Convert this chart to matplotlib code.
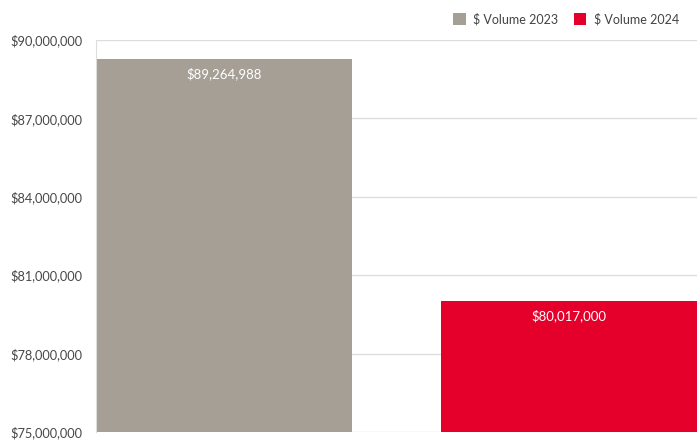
import matplotlib
matplotlib.use("Agg")
import matplotlib.pyplot as plt
from matplotlib.patches import Patch
from matplotlib.ticker import FuncFormatter

series = ["$ Volume 2023", "$ Volume 2024"]
values = [89264988, 80017000]
colors = ["#A69F96", "#E4002B"]
y_ticks = [75000000, 78000000, 81000000, 84000000, 87000000, 90000000]

plt.rcParams["font.family"] = ["Lato", "DejaVu Sans"]

W, H = 697, 441
fig = plt.figure(figsize=(W / 100, H / 100), dpi=100)
ax = fig.add_axes([96 / W, 9 / H, (W - 96) / W, (432 - 40) / H])

width = 0.74
xs = list(range(len(values)))
bars = ax.bar(xs, values, width=width, color=colors, zorder=2)
for x, v in zip(xs, values):
    ax.annotate(f"${v:,.0f}", (x, v), xytext=(0, -6), textcoords="offset points",
                ha="center", va="top", color="white", fontsize=9.5, zorder=3)

ax.set_xlim(-width / 2, len(values) - 1 + width / 2)
ax.set_ylim(y_ticks[0], y_ticks[-1])
ax.set_yticks(y_ticks)
ax.yaxis.set_major_formatter(FuncFormatter(lambda v, p: f"${v:,.0f}"))
ax.tick_params(axis="y", length=0, pad=10, labelsize=9.2, labelcolor="#484848")
ax.set_xticks([])
ax.grid(axis="y", color="#DDDDDD", linewidth=1, zorder=1)
for side in ["top", "right", "bottom"]:
    ax.spines[side].set_visible(False)
ax.spines["left"].set_color("#DDDDDD")

handles = [Patch(facecolor=c, label=s) for c, s in zip(colors, series)]
fig.legend(handles=handles, loc="center right", bbox_to_anchor=(690 / W, 1 - 19 / H),
           ncol=2, frameon=False, fontsize=9, labelcolor="#444444",
           handlelength=1.0, handleheight=1.0, handletextpad=0.6, columnspacing=1.2)

fig.savefig("out.png", dpi=100)
